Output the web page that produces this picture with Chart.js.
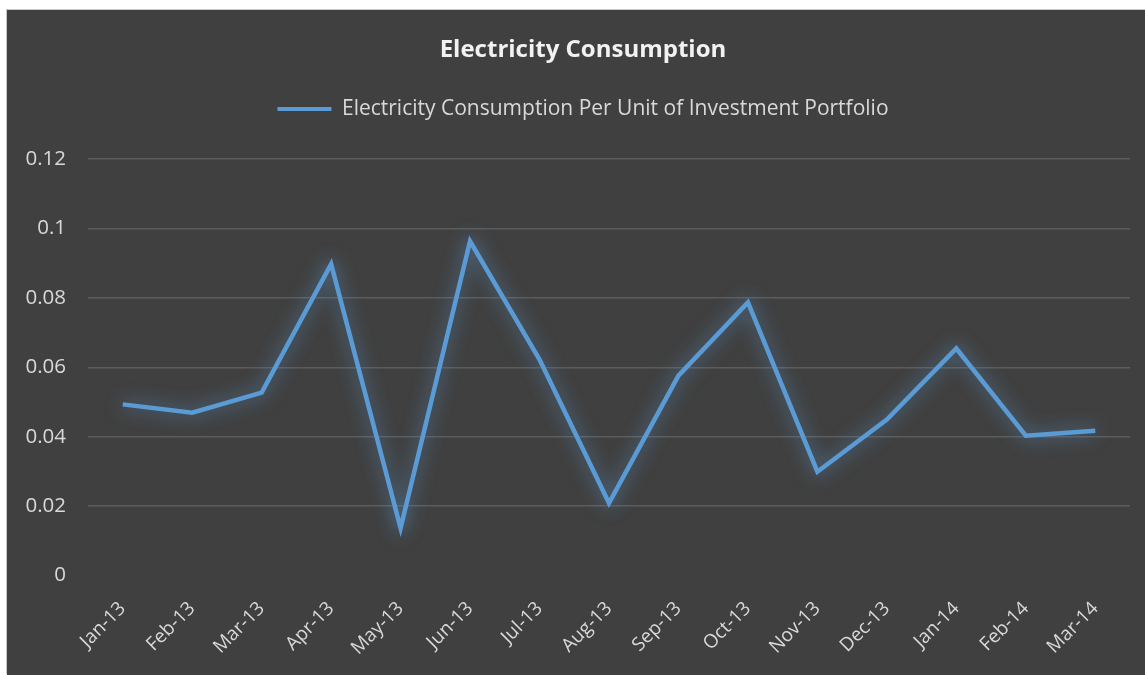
<!DOCTYPE html>
<html><head><meta charset="utf-8">
<script src="https://cdn.jsdelivr.net/npm/chart.js@4.4.0/dist/chart.umd.min.js"></script>
<style>
html,body{margin:0;padding:0;background:#fff;width:1145px;height:675px;overflow:hidden}
#wrap{position:absolute;left:7px;top:10px;width:1152px;height:665px;background:#404040;box-shadow:-1px -1px 0 #c8c8c8}
canvas{display:block}
</style></head>
<body>
<div id="wrap"><canvas id="c" width="1152" height="665"></canvas></div>
<script>
const categories = ['Jan-13','Feb-13','Mar-13','Apr-13','May-13','Jun-13','Jul-13','Aug-13','Sep-13','Oct-13','Nov-13','Dec-13','Jan-14','Feb-14','Mar-14'];
const consumption = [0.0493,0.0469,0.0527,0.0897,0.0137,0.0963,0.0622,0.0209,0.0576,0.0787,0.0299,0.0449,0.0654,0.0403,0.0417];
const yTicks = [0,0.02,0.04,0.06,0.08,0.1,0.12];
const seriesName = 'Electricity Consumption Per Unit of Investment Portfolio';
const chartTitle = 'Electricity Consumption';

const FONT = "'Open Sans', 'Lato', sans-serif";
const glow = {
  id:'glow',
  beforeDatasetDraw(chart){ const c=chart.ctx; c.save(); c.shadowColor='rgba(91,155,213,0.8)'; c.shadowBlur=18; },
  afterDatasetDraw(chart){ chart.ctx.restore(); }
};
// extra space between legend and plot area
const legendGap = {
  id:'legendGap',
  beforeLayout(chart){
    const lg = chart.legend;
    if (lg && !lg._gapPatched) {
      const fit = lg.fit.bind(lg);
      lg.fit = function(){ fit(); this.height += 29.5; };
      lg._gapPatched = true;
    }
  }
};

new Chart(document.getElementById('c'), {
  type:'line',
  data:{ labels:categories, datasets:[{ label:seriesName, data:consumption, borderColor:'#5b9bd5', backgroundColor:'#5b9bd5', borderWidth:4.5, pointRadius:0, tension:0, fill:false }]},
  options:{
    responsive:false, animation:false,
    layout:{padding:0},
    plugins:{
      title:{display:true, text:chartTitle, color:'#f2f2f2', font:{family:FONT, size:24, weight:'bold', lineHeight:1.2}, padding:{top:25.6,bottom:24.1}},
      legend:{display:true, position:'top', labels:{color:'#d9d9d9', font:{family:FONT,size:21}, boxWidth:54, boxHeight:4, padding:10,
        generateLabels(chart){ return [{text:seriesName, fillStyle:'#5b9bd5', strokeStyle:'#5b9bd5', lineWidth:0, datasetIndex:0, fontColor:'#d9d9d9'}]; } }},
      tooltip:{enabled:false}
    },
    scales:{
      x:{ offset:true, grid:{display:false, drawTicks:false}, border:{display:false},
          ticks:{color:'#d9d9d9', font:{family:FONT,size:19}, maxRotation:45, minRotation:45, padding:22, autoSkip:false},
          afterFit(s){ s.height = 99.5; } },
      y:{ min:0, max:0.12, grid:{color:(ctx)=> ctx.tick && ctx.tick.value===0 ? 'rgba(0,0,0,0)' : '#5c5c5c', lineWidth:1.5, drawTicks:false}, border:{display:false},
          afterBuildTicks(s){ s.ticks = yTicks.map(v=>({value:v})); },
          ticks:{color:'#d9d9d9', font:{family:FONT,size:20.5}, padding:22, callback:(v)=>String(+(+v).toFixed(2))},
          afterFit(s){ s.width = 81; } },
      yRight:{ position:'right', display:true, min:0, max:0.12, grid:{display:false, drawTicks:false}, border:{display:false},
          ticks:{display:false}, afterFit(s){ s.width = 29; } }
    }
  },
  plugins:[glow, legendGap]
});
</script>
</body></html>
